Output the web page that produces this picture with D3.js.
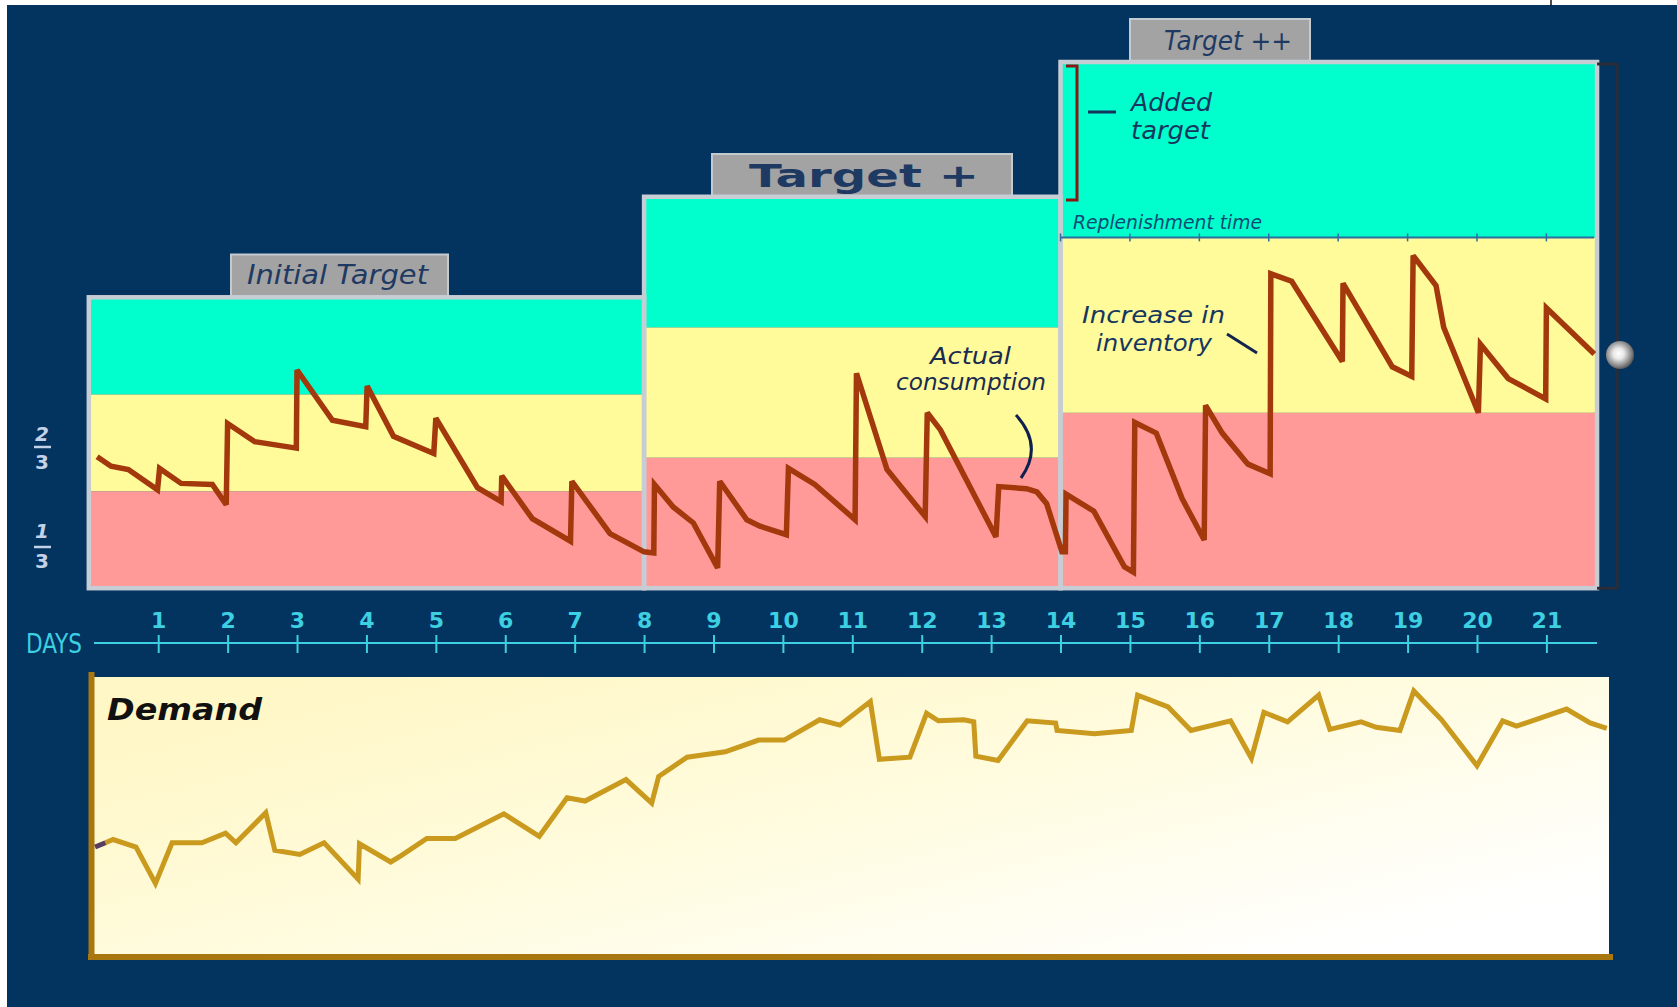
<!DOCTYPE html>
<html>
<head>
<meta charset="utf-8">
<script src="https://cdn.jsdelivr.net/npm/d3@7"></script>
<style>
  html, body { margin: 0; padding: 0; background: #ffffff; }
  svg { display: block; }
</style>
</head>
<body>
<svg id="chart" width="1677" height="1007"></svg>
<script>
// ---------------- DATA ----------------
const dayLabels = [1,2,3,4,5,6,7,8,9,10,11,12,13,14,15,16,17,18,19,20,21];
const replenishTicks = [14,15,16,17,18,19,20,21];

const targetNames  = ["Initial Target", "Target +", "Target ++"];
const targetLevels = [272, 366, 492];
const targetStart  = [0, 8, 14];
const targetEnd    = [8, 14, 21.73];

const invDay = [0.12,0.32,0.57,0.99,1.02,1.33,1.78,1.98,2.00,2.39,2.99,3.00,3.51,3.99,4.01,4.39,4.97,5.00,5.60,5.94,5.95,6.39,6.94,6.96,7.51,8.00,
  8.14,8.15,8.42,8.71,9.06,9.09,9.48,9.67,10.05,10.08,10.46,11.04,11.06,11.50,12.05,12.08,12.27,13.07,13.11,13.51,13.66,13.80,14.02,
  14.07,14.08,14.48,14.92,15.05,15.07,15.38,15.75,16.07,16.09,16.33,16.70,17.02,17.03,17.33,18.06,18.07,18.78,19.06,19.08,19.41,19.52,20.02,20.05,20.45,20.99,21.00,21.69];
const invLevel = [123,114,111,92,112,98,97,78,154,137,131,204,157,151,189,142,126,159,94,81,105,65,44,100,51,34,
  33,97,76,61,19,100,64,58,50,112,97,64,201,111,67,164,148,48,95,93,90,79,34,
  34,88,72,20,15,155,145,84,45,171,145,116,107,294,287,212,285,207,198,311,283,244,164,228,196,177,262,219];

const demandDay = [0.09,0.24,0.35,0.68,0.96,1.20,1.63,1.97,2.12,2.55,2.68,3.04,3.39,3.88,3.90,4.35,4.50,4.87,5.28,5.98,6.49,6.89,7.15,7.74,8.11,8.21,
  8.62,9.17,9.65,10.02,10.53,10.82,11.26,11.39,11.83,12.07,12.24,12.61,12.75,12.78,13.10,13.52,13.93,13.95,14.49,15.02,15.11,15.55,15.88,
  16.45,16.75,16.93,17.27,17.72,17.88,18.33,18.55,18.89,19.09,19.49,20.00,20.37,20.57,21.29,21.63,21.87];
const demandValue = [101,105,108,101,67,105,105,114,105,133,98,94,105,71,104,87,93,109,109,132,111,147,144,164,142,167,
  185,190,201,201,220,215,237,183,185,226,219,220,218,186,182,219,217,210,207,210,243,232,210,
  219,184,227,218,243,211,218,213,210,247,220,177,219,214,230,217,212];

// ---------------- SETUP ----------------
const svg = d3.select("#chart");
const x  = d3.scaleLinear().domain([0, 22]).range([88.8, 1615.8]);
const y  = d3.scaleLinear().domain([0, 492]).range([588.2, 62]);
const yD = d3.scaleLinear().domain([0, 260]).range([955, 677]);

const navy = "#03335f";
const zoneColors = ["#ff9a98", "#fffa9a", "#00ffcc"];
const italicFont = "'DejaVu Sans', sans-serif";

// background
svg.append("rect").attr("x", 7).attr("y", 5).attr("width", 1670).attr("height", 1002).attr("fill", navy);
svg.append("line").attr("x1", 1551).attr("x2", 1551).attr("y1", 0).attr("y2", 6).attr("stroke", "#111").attr("stroke-width", 1.5);

const defs = svg.append("defs");
const dg = defs.append("linearGradient").attr("id", "demandBg")
  .attr("x1", "0").attr("y1", "0.2").attr("x2", "0.9").attr("y2", "0.9");
dg.append("stop").attr("offset", "0").attr("stop-color", "#fff7c6");
dg.append("stop").attr("offset", "0.45").attr("stop-color", "#fffbdc");
dg.append("stop").attr("offset", "1").attr("stop-color", "#ffffff");
const rg = defs.append("radialGradient").attr("id", "ball").attr("cx", "0.45").attr("cy", "0.45").attr("r", "0.55");
rg.append("stop").attr("offset", "0").attr("stop-color", "#ffffff");
rg.append("stop").attr("offset", "0.35").attr("stop-color", "#e8e8e8");
rg.append("stop").attr("offset", "0.8").attr("stop-color", "#8a8a8a");
rg.append("stop").attr("offset", "1").attr("stop-color", "#5a5a5a");

// ---------------- LABEL BOXES ----------------
const boxSpec = [
  {x0: 231, x1: 448, y0: 254.5, tx: 247, tl: 181, ty: 284, size: 27, weight: "normal", style: "italic"},
  {x0: 712, x1: 1012, y0: 154, tx: 749, tl: 230, ty: 187, size: 32, weight: "bold", style: "normal"},
  {x0: 1130, x1: 1310, y0: 19, tx: 1164, tl: 128, ty: 50, size: 26, weight: "normal", style: "italic"}
];
targetNames.forEach((name, i) => {
  const b = boxSpec[i];
  const top = y(targetLevels[i]);
  svg.append("rect").attr("x", b.x0).attr("y", b.y0).attr("width", b.x1 - b.x0).attr("height", top - b.y0)
    .attr("fill", "#a3a3a3").attr("stroke", "#c4cbd0").attr("stroke-width", 2);
  svg.append("text").attr("x", b.tx).attr("y", b.ty).text(name)
    .attr("font-family", italicFont).attr("font-size", b.size).attr("font-weight", b.weight)
    .attr("font-style", b.style).attr("fill", "#1e3a62")
    .attr("textLength", b.tl).attr("lengthAdjust", "spacingAndGlyphs");
});

// ---------------- TARGET PANELS ----------------
targetLevels.forEach((T, i) => {
  const g = svg.append("g");
  const bands = [[0, T/3], [T/3, 2*T/3], [2*T/3, T]];
  bands.forEach((b, k) => {
    g.append("rect")
      .attr("x", x(targetStart[i])).attr("width", x(targetEnd[i]) - x(targetStart[i]))
      .attr("y", y(b[1])).attr("height", y(b[0]) - y(b[1]))
      .attr("fill", zoneColors[k]);
  });
});
targetLevels.forEach((T, i) => {
  svg.append("rect")
    .attr("x", x(targetStart[i])).attr("width", x(targetEnd[i]) - x(targetStart[i]))
    .attr("y", y(T)).attr("height", y(0) - y(T))
    .attr("fill", "none").attr("stroke", "#c6cdd4").attr("stroke-width", 4.5);
});

// Replenishment time line (panel 3, at 2/3 of target ++)
const repY = y(targetLevels[2] * 2 / 3);
svg.append("line").attr("x1", x(targetStart[2])).attr("x2", x(targetEnd[2]) - 3)
  .attr("y1", repY).attr("y2", repY).attr("stroke", "#2d6f9e").attr("stroke-width", 2);
svg.selectAll(".rtick").data(replenishTicks).enter().append("line")
  .attr("x1", d => x(d)).attr("x2", d => x(d)).attr("y1", repY - 4).attr("y2", repY + 4)
  .attr("stroke", "#2d6f9e").attr("stroke-width", 1.5);
svg.append("text").attr("x", 1073).attr("y", 229).text("Replenishment time")
  .attr("font-family", italicFont).attr("font-size", 20).attr("font-style", "italic")
  .attr("fill", "#0e4a72").attr("textLength", 189).attr("lengthAdjust", "spacingAndGlyphs");

// Added target bracket
svg.append("path").attr("d", "M1066,66 H1077 V200 H1066").attr("fill", "none")
  .attr("stroke", "#8e1414").attr("stroke-width", 3);
svg.append("line").attr("x1", 1088).attr("x2", 1116).attr("y1", 112).attr("y2", 112)
  .attr("stroke", "#15335c").attr("stroke-width", 3);
[["Added", 111, 81], ["target", 139, 79]].forEach(t => {
  svg.append("text").attr("x", 1131).attr("y", t[1]).text(t[0])
    .attr("font-family", italicFont).attr("font-size", 25).attr("font-style", "italic")
    .attr("fill", "#15365e").attr("textLength", t[2]).attr("lengthAdjust", "spacingAndGlyphs");
});

// Right bracket + ball
svg.append("path").attr("d", `M${x(targetEnd[2])},${y(targetLevels[2]) + 2} H1617 V${y(0)} H${x(targetEnd[2])}`)
  .attr("fill", "none").attr("stroke", "#2a2d38").attr("stroke-width", 3);

// ---------------- INVENTORY LINE ----------------
const invPts = invDay.map((d, i) => [d, invLevel[i]]);
const lineInv = d3.line().x(d => x(d[0])).y(d => y(d[1]));
svg.append("path").attr("d", lineInv(invPts)).attr("fill", "none")
  .attr("stroke", "#a2380c").attr("stroke-width", 5.5).attr("stroke-linejoin", "miter").attr("stroke-miterlimit", 3);

svg.append("circle").attr("cx", 1620).attr("cy", 355).attr("r", 14).attr("fill", "url(#ball)");

// annotations
[["Increase in", 1082, 323, 143], ["inventory", 1096, 351, 116]].forEach(t => {
  svg.append("text").attr("x", t[1]).attr("y", t[2]).text(t[0])
    .attr("font-family", italicFont).attr("font-size", 23).attr("font-style", "italic")
    .attr("fill", "#15365e").attr("textLength", t[3]).attr("lengthAdjust", "spacingAndGlyphs");
});
svg.append("line").attr("x1", 1227).attr("y1", 334).attr("x2", 1257).attr("y2", 353)
  .attr("stroke", "#13254f").attr("stroke-width", 3);
[["Actual", 930, 364, 81], ["consumption", 896, 390, 150]].forEach(t => {
  svg.append("text").attr("x", t[1]).attr("y", t[2]).text(t[0])
    .attr("font-family", italicFont).attr("font-size", 23).attr("font-style", "italic")
    .attr("fill", "#1a2b50").attr("textLength", t[3]).attr("lengthAdjust", "spacingAndGlyphs");
});
svg.append("path").attr("d", "M1016,415 Q1044,446 1021,478").attr("fill", "none")
  .attr("stroke", "#0f1f50").attr("stroke-width", 3);

// fractions
[[2, 441, 447, 469], [1, 538, 547, 568]].forEach(f => {
  svg.append("text").attr("x", 42).attr("y", f[1]).attr("text-anchor", "middle").text(f[0])
    .attr("font-family", "'DejaVu Sans', sans-serif").attr("font-weight", "bold").attr("font-style", "italic")
    .attr("font-size", 20).attr("fill", "#c2d2e8");
  svg.append("line").attr("x1", 34).attr("x2", 51).attr("y1", f[2]).attr("y2", f[2])
    .attr("stroke", "#c2d2e8").attr("stroke-width", 2.5);
  svg.append("text").attr("x", 42).attr("y", f[3]).attr("text-anchor", "middle").text(3)
    .attr("font-family", "'DejaVu Sans', sans-serif").attr("font-weight", "bold")
    .attr("font-size", 20).attr("fill", "#c2d2e8");
});

// ---------------- DAYS AXIS ----------------
const axisY = 643;
const cyan = "#3dcfe2";
svg.append("line").attr("x1", 94).attr("x2", x(targetEnd[2])).attr("y1", axisY).attr("y2", axisY)
  .attr("stroke", cyan).attr("stroke-width", 2);
const ax = svg.append("g").attr("transform", `translate(0,${axisY - 8})`)
  .call(d3.axisTop(x).tickValues(dayLabels).tickSizeInner(-18).tickSizeOuter(0).tickPadding(7));
ax.select(".domain").remove();
ax.selectAll(".tick line").attr("stroke", cyan).attr("stroke-width", 2);
ax.selectAll(".tick text").attr("fill", cyan).attr("font-family", "'DejaVu Sans', sans-serif")
  .attr("font-size", 22).attr("font-weight", "bold");
svg.append("text").attr("x", 26).attr("y", 653).text("DAYS")
  .attr("font-family", "'DejaVu Sans Condensed', 'DejaVu Sans', sans-serif").attr("font-size", 27)
  .attr("fill", cyan).attr("textLength", 56).attr("lengthAdjust", "spacingAndGlyphs");

// ---------------- DEMAND PANEL ----------------
svg.append("rect").attr("x", 91).attr("y", yD(260)).attr("width", 1609 - 91).attr("height", yD(0) - yD(260))
  .attr("fill", "url(#demandBg)");
svg.append("line").attr("x1", 91.5).attr("x2", 91.5).attr("y1", 672).attr("y2", 960)
  .attr("stroke", "#a9770f").attr("stroke-width", 6);
svg.append("line").attr("x1", 88).attr("x2", 1613).attr("y1", 957).attr("y2", 957)
  .attr("stroke", "#a9770f").attr("stroke-width", 6);
svg.append("text").attr("x", 107).attr("y", 720).text("Demand")
  .attr("font-family", "'DejaVu Sans', sans-serif").attr("font-size", 30).attr("font-weight", "bold")
  .attr("font-style", "italic").attr("fill", "#111").attr("textLength", 155).attr("lengthAdjust", "spacingAndGlyphs");

const demPts = demandDay.map((d, i) => [d, demandValue[i]]);
const lineD = d3.line().x(d => x(d[0])).y(d => yD(d[1]));
svg.append("path").attr("d", lineD(demPts.slice(1))).attr("fill", "none")
  .attr("stroke", "#c99a1e").attr("stroke-width", 5).attr("stroke-linejoin", "miter").attr("stroke-miterlimit", 3);
svg.append("path").attr("d", lineD(demPts.slice(0, 2))).attr("fill", "none")
  .attr("stroke", "#5a3c5e").attr("stroke-width", 5);
</script>
</body>
</html>
